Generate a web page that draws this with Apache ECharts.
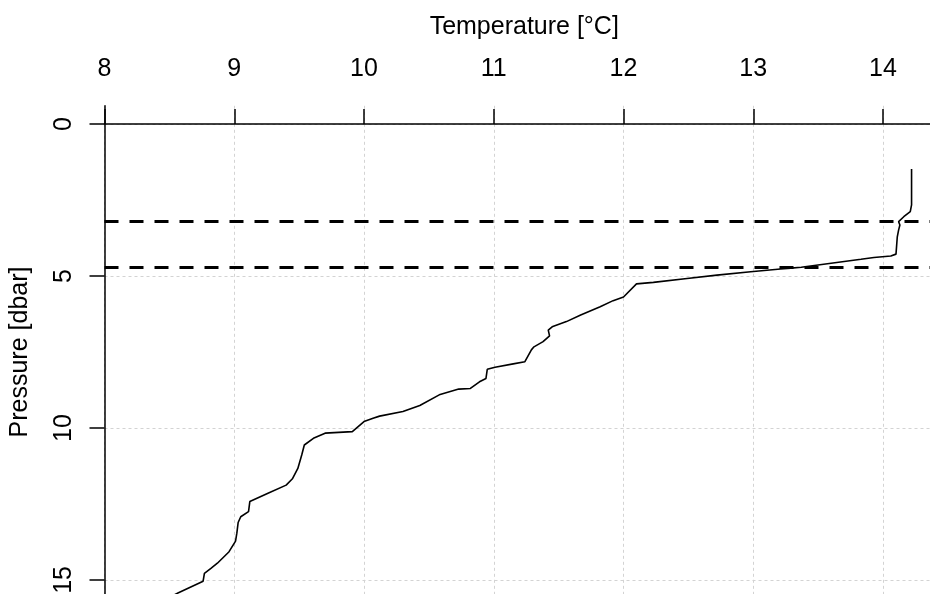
<!DOCTYPE html>
<html>
<head>
<meta charset="utf-8">
<title>Temperature profile</title>
<script src="https://cdn.jsdelivr.net/npm/echarts@6/dist/echarts.min.js"></script>
<style>
  html, body { margin: 0; padding: 0; background: #ffffff; }
  #chart { width: 930px; height: 594px; }
</style>
</head>
<body>
<div id="chart"></div>
<script>
// CTD cast: temperature (°C) against pressure (dbar), surface at top
const temperature = [
  14.22, 14.22, 14.23, 14.21, 14.16, 14.12, 14.13, 14.12, 14.11, 14.10,
  14.06, 13.93, 13.83, 13.37, 13.29, 13.21, 12.98, 12.72, 12.49, 12.23,
  12.10, 12.00, 11.92, 11.82, 11.67, 11.56, 11.45, 11.42, 11.43, 11.38,
  11.31, 11.29, 11.24, 11.15, 11.01, 10.95, 10.94, 10.89, 10.82, 10.73,
  10.58, 10.43, 10.30, 10.12, 10.07, 10.00, 9.91, 9.70, 9.61, 9.54,
  9.52, 9.49, 9.45, 9.40, 9.26, 9.12, 9.11, 9.05, 9.03, 9.02,
  9.01, 8.96, 8.87, 8.82, 8.77, 8.76, 8.57, 8.42
];
const pressure = [
  1.48, 2.66, 2.72, 2.88, 3.05, 3.21, 3.32, 3.49, 3.71, 4.28,
  4.34, 4.39, 4.45, 4.71, 4.74, 4.77, 4.86, 4.97, 5.08, 5.21,
  5.26, 5.69, 5.81, 6.01, 6.28, 6.50, 6.67, 6.78, 6.97, 7.16,
  7.33, 7.43, 7.82, 7.89, 8.00, 8.07, 8.37, 8.48, 8.70, 8.72,
  8.91, 9.26, 9.46, 9.61, 9.68, 9.79, 10.12, 10.17, 10.34, 10.56,
  10.89, 11.33, 11.66, 11.88, 12.15, 12.42, 12.75, 12.92, 13.11, 13.46,
  13.72, 14.07, 14.45, 14.62, 14.78, 15.04, 15.42, 15.75
];
// Mixed-layer markers (dbar)
const layerDepths = [3.2, 4.7];
// Axis tick values
const tempTicks = [8, 9, 10, 11, 12, 13, 14];
const pressureTicks = [0, 5, 10, 15];

const profile = temperature.map((t, i) => [t, pressure[i]]);

const chart = echarts.init(document.getElementById('chart'), null, { renderer: 'canvas' });
const font = 'Liberation Sans, Arial, sans-serif';

chart.setOption({
  animation: false,
  backgroundColor: '#ffffff',
  grid: {
    left: 104.5, right: -14, top: 105.8, bottom: -4.2,
    containLabel: false,
    outerBoundsMode: 'none'
  },
  xAxis: {
    type: 'value',
    position: 'top',
    min: 8,
    max: 14.47,
    interval: 1,
    name: 'Temperature [°C]',
    nameLocation: 'middle',
    nameGap: 66,
    nameTextStyle: { fontFamily: font, fontSize: 25, color: '#000' },
    axisLine: { show: true, lineStyle: { color: '#000', width: 1.5 } },
    axisTick: { show: true, length: 15, customValues: tempTicks, lineStyle: { color: '#000', width: 1.5 } },
    axisLabel: { customValues: tempTicks, margin: 24, fontFamily: font, fontSize: 25, color: '#000' },
    splitLine: { show: true, lineStyle: { color: '#d3d3d3', width: 1, type: [3, 3] } }
  },
  yAxis: {
    type: 'value',
    inverse: true,
    min: -0.6,
    max: 15.6,
    interval: 5,
    name: 'Pressure [dbar]',
    nameLocation: 'middle',
    nameGap: 72,
    nameRotate: 90,
    nameTextStyle: { fontFamily: font, fontSize: 25, color: '#000' },
    axisLine: { show: true, lineStyle: { color: '#000', width: 1.5 } },
    axisTick: { show: true, length: 15, customValues: pressureTicks, lineStyle: { color: '#000', width: 1.5 } },
    axisLabel: { customValues: pressureTicks, rotate: 90, margin: 28, fontFamily: font, fontSize: 25, color: '#000' },
    splitLine: { show: true, lineStyle: { color: '#d3d3d3', width: 1, type: [3, 3] } }
  },
  series: [
    {
      type: 'line',
      data: profile,
      showSymbol: false,
      symbol: 'none',
      clip: true,
      lineStyle: { color: '#000', width: 1.6 },
      markLine: {
        silent: true,
        symbol: ['none', 'none'],
        label: { show: false },
        lineStyle: { color: '#000', width: 3, type: [14, 11] },
        data: layerDepths.map(d => ({ yAxis: d }))
      }
    }
  ]
});
</script>
</body>
</html>
